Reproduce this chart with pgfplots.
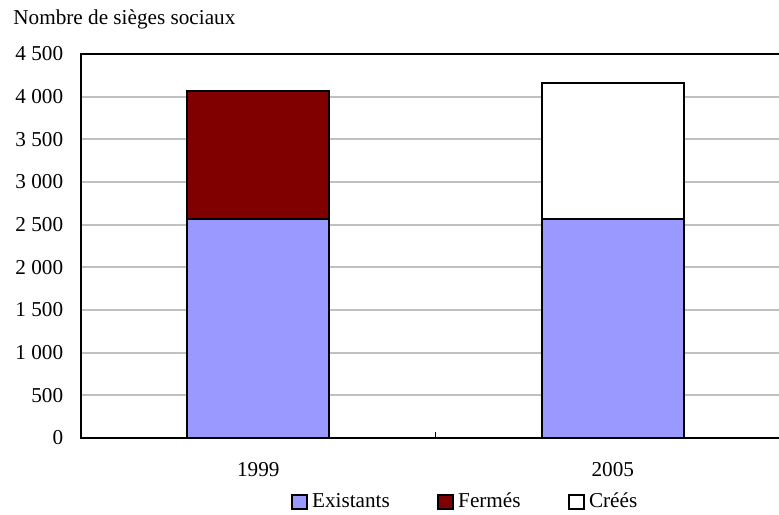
\documentclass[border=0pt]{standalone}
\usepackage{fontspec}
\setmainfont{Liberation Serif}
\usepackage{pgfplots}
\pgfplotsset{compat=1.18}
\definecolor{exist}{HTML}{9999FF}
\definecolor{ferme}{HTML}{800000}
\definecolor{gridgray}{HTML}{C0C0C0}
\pgfplotsset{mylegend/.style={legend image code/.code={\draw[##1,line width=1.2pt] (0pt,-3.5pt) rectangle (7.5pt,3.5pt);}}}
\begin{document}
\fontsize{10.6pt}{12.7pt}\selectfont
\begin{tikzpicture}
\node[anchor=base west, inner sep=0pt] at (6.5pt,-12.5pt) {Nombre de sièges sociaux};
\begin{axis}[
  at={(40.5pt,-219pt)}, anchor=south west,
  scale only axis, width=354.5pt, height=192pt,
  ybar stacked, bar width=0.4,
  xmin=-0.5, xmax=1.5, ymin=0, ymax=4500,
  xtick={0,1}, xticklabels={1999,2005},
  ytick={0,500,...,4500},
  major tick length=0pt,
  xtick pos=bottom,
  ymajorgrids, grid style={gridgray, line width=0.9pt},
  axis line style={line width=1.1pt},
  /pgf/number format/assume math mode=true,
  yticklabel style={/pgf/number format/1000 sep={\ }, xshift=-5.2pt},
  xticklabel style={yshift=-8.5pt},
  extra x ticks={0.5}, extra x tick labels={},
  extra x tick style={major tick length=3pt, tick align=inside, tick style={black, line width=0.5pt}},
  legend columns=3,
  legend style={at={(0.543,-0.1667)}, anchor=center, draw=none, fill=none,
    /tikz/every even column/.append style={column sep=21.5pt}},
]
\addplot[fill=exist, draw=black, line width=1pt, mylegend] coordinates {(0,2570) (1,2570)};
\addplot[fill=ferme, draw=black, line width=1pt, mylegend] coordinates {(0,1500) (1,0)};
\addplot[fill=white, draw=black, line width=1pt, mylegend] coordinates {(0,0) (1,1595)};
\legend{Existants, Fermés, Créés}
\end{axis}
\pgfresetboundingbox
\path[use as bounding box] (0,0) rectangle (389.5pt,-257pt);
\end{tikzpicture}
\end{document}
